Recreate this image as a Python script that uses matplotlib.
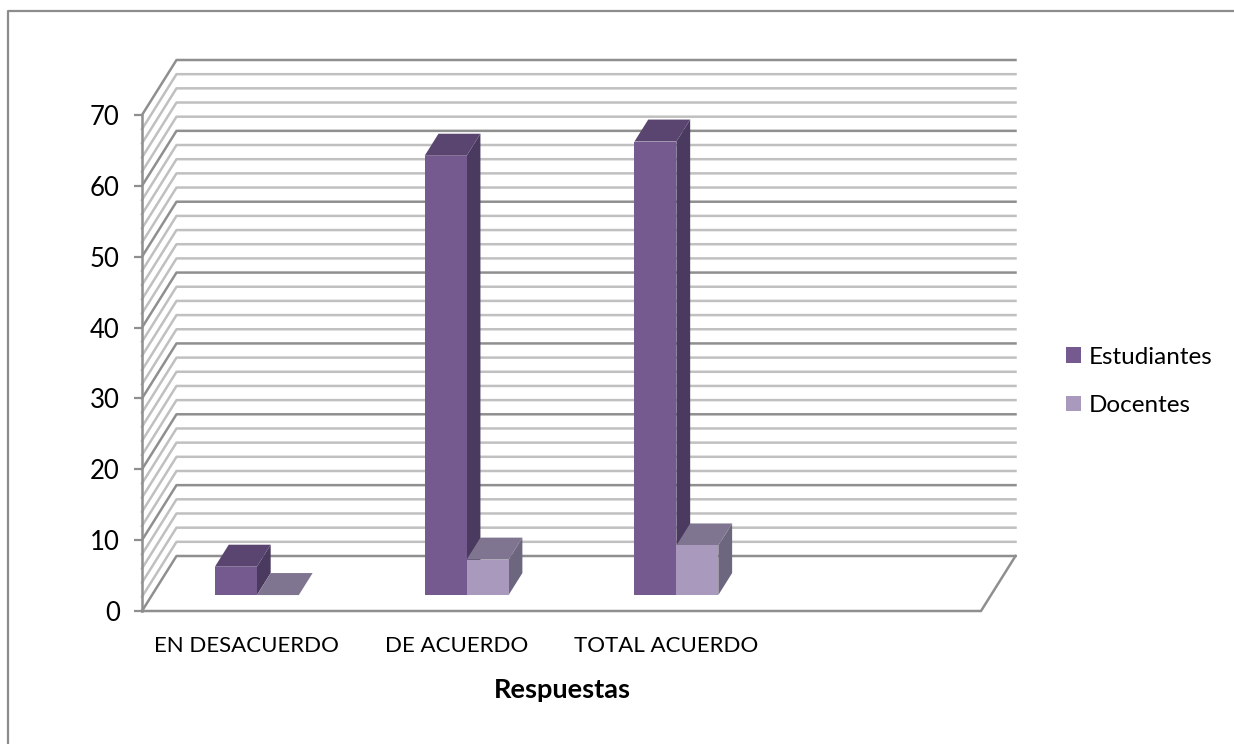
import matplotlib
matplotlib.use("Agg")
import matplotlib.pyplot as plt
from matplotlib.patches import Polygon, Rectangle

categories = ["EN DESACUERDO", "DE ACUERDO", "TOTAL ACUERDO", ""]
estudiantes = [4, 62, 64, None]
docentes = [0, 5, 7, None]
y_ticks = [0, 10, 20, 30, 40, 50, 60, 70]
minor_ticks = [v for v in range(0, 71, 2) if v % 10]
x_title = "Respuestas"
series_names = ["Estudiantes", "Docentes"]

W, H = 1234, 744
plt.rcParams['font.family'] = ['Lato', 'DejaVu Sans']
fig = plt.figure(figsize=(W / 100, H / 100), dpi=100, facecolor="white")

# frame: left and top edges only are visible
fig.add_artist(plt.Line2D([8 / W, 8 / W, 1.0], [0.0, 1 - 10.5 / H, 1 - 10.5 / H],
                          transform=fig.transFigure, color="#8c8c8c", lw=1.6))

L, R, T, B = 142, 981, 115, 611
ax = fig.add_axes([L / W, 1 - B / H, (R - L) / W, (B - T) / H])
ax.set_xlim(0, 4)
ax.set_ylim(0, 70)
ax.patch.set_alpha(0)
for s in ax.spines.values():
    s.set_visible(False)

PX = 4 / (R - L)
PY = 70 / (B - T)
DX = 34.5 * PX
DY = 55 * PY


def pt(x, y, d=0.0):
    return (x + d * DX, y + d * DY)


def poly(pts, color, z):
    ax.add_patch(Polygon(pts, closed=True, fc=color, ec="none", lw=0, zorder=z, clip_on=False))


def line(pts, color, lw, z=1):
    xs, ys = zip(*pts)
    ax.plot(xs, ys, color=color, lw=lw, zorder=z, clip_on=False, solid_capstyle="projecting")


for v in minor_ticks:
    line([pt(0, v), pt(0, v, 1), pt(4, v, 1)], "#c0c0c0", 1.8)
for v in y_ticks:
    line([pt(0, v), pt(0, v, 1), pt(4, v, 1)], "#8f8f8f", 1.8, z=1.5)
line([pt(0, 0), pt(4, 0), pt(4, 0, 1)], "#8f8f8f", 1.8, z=1.5)
line([pt(0, 0), pt(0, 70)], "#8f8f8f", 1.8, z=1.5)

BW = 0.2
D0, D1 = 0.29, 0.69
FRONT = {0: ("#745a8e", "#5a4570", "#4a3a5f"), 1: ("#a899bd", "#7f7590", "#6d667f")}


def bar3d(center, val, offset, idx, z):
    x0 = center + offset * BW
    x1 = x0 + BW
    fc, tc, sc = FRONT[idx]
    if val > 0:
        poly([pt(x1, 0, D0), pt(x1, 0, D1), pt(x1, val, D1), pt(x1, val, D0)], sc, z)
    poly([pt(x0, val, D0), pt(x1, val, D0), pt(x1, val, D1), pt(x0, val, D1)], tc, z + 0.05)
    if val > 0:
        poly([pt(x0, 0, D0), pt(x1, 0, D0), pt(x1, val, D0), pt(x0, val, D0)], fc, z + 0.1)


for i, cat in enumerate(categories):
    c = i + 0.5
    if estudiantes[i] is not None:
        bar3d(c, estudiantes[i], -1, 0, 3)
        bar3d(c, docentes[i], 0, 1, 4)

ax.set_yticks(y_ticks)
ax.set_yticklabels([str(v) for v in y_ticks], fontsize=18.5, color="black")
ax.tick_params(axis="y", length=6, width=1.6, color="#8f8f8f", pad=10)
ax.set_xticks([i + 0.5 for i in range(4)])
ax.set_xticklabels(categories, fontsize=16, color="black")
ax.tick_params(axis="x", length=0, pad=18)
ax.set_xlabel(x_title, fontsize=19.5, fontweight="bold", labelpad=16)
ax.xaxis.label.set_position(((562 - L) / (R - L), 0))

h = [Rectangle((0, 0), 1, 1, fc=FRONT[0][0]), Rectangle((0, 0), 1, 1, fc=FRONT[1][0])]
fig.legend(h, series_names, loc="center left", bbox_to_anchor=(1066 / W, 1 - 381.5 / H),
           frameon=False, fontsize=17.5, handlelength=0.62, handleheight=0.62,
           handletextpad=0.33, labelspacing=1.12, borderpad=0, borderaxespad=0)

fig.savefig("out.png", dpi=100)
